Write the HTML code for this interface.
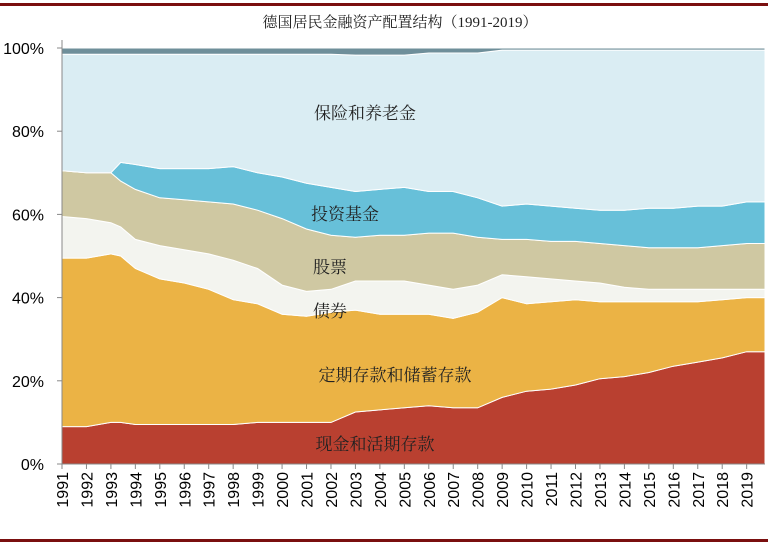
<!DOCTYPE html>
<html><head><meta charset="utf-8"><style>
body{margin:0;background:#fff;}
svg{display:block;}
text{font-family:"Liberation Sans","Noto Sans CJK SC",sans-serif;}
.cn{font-family:"Liberation Serif","Noto Serif CJK SC",serif;font-size:17px;fill:#222;}
</style></head><body>
<svg id="chart" width="768" height="547">
<rect x="0" y="3" width="768" height="3" fill="#7a0f0f"/>
<rect x="0" y="539" width="768" height="3" fill="#7a0f0f"/>
<text x="400" y="27" text-anchor="middle" class="cn" style="font-size:15px">德国居民金融资产配置结构（1991-2019）</text>
<g id="areas"></g><g id="axes"></g>
<text class="cn" x="365" y="119" text-anchor="middle">保险和养老金</text>
<text class="cn" x="345" y="220" text-anchor="middle">投资基金</text>
<text class="cn" x="330" y="273" text-anchor="middle">股票</text>
<text class="cn" x="330" y="317" text-anchor="middle">债券</text>
<text class="cn" x="395" y="381" text-anchor="middle">定期存款和储蓄存款</text>
<text class="cn" x="375" y="450" text-anchor="middle">现金和活期存款</text>
</svg>
<script>
const years=[1991,1992,1993,1993.4,1994,1995,1996,1997,1998,1999,2000,2001,2002,2003,2004,2005,2006,2007,2008,2009,2010,2011,2012,2013,2014,2015,2016,2017,2018,2019,2019.75];
const cash=[9,9,10,10,9.5,9.5,9.5,9.5,9.5,10,10,10,10,12.5,13,13.5,14,13.5,13.5,16,17.5,18,19,20.5,21,22,23.5,24.5,25.5,27,27];
const deposits=[40.5,40.5,40.5,40,37.5,35,34,32.5,30,28.5,26,25.5,26.5,24.5,23,22.5,22,21.5,23,24,21,21,20.5,18.5,18,17,15.5,14.5,14,13,13];
const bonds=[10,9.5,7.5,7,7,8,8,8.5,9.5,8.5,7,6,5.5,7,8,8,7,7,6.5,5.5,6.5,5.5,4.5,4.5,3.5,3,3,3,2.5,2,2];
const stocks=[11,11,12,11,12,11.5,12,12.5,13.5,14,16,15,13,10.5,11,11,12.5,13.5,11.5,8.5,9,9,9.5,9.5,10,10,10,10,10.5,11,11];
const funds=[0,0,0,4.5,6,7,7.5,8,9,9,10,11,11.5,11,11,11.5,10,10,9.5,8,8.5,8.5,8,8,8.5,9.5,9.5,10,9.5,10,10];
const insurance=[28,28.5,28.5,26,26.5,27.5,27.5,27.5,27,28.5,29.5,31,32,32.8,32.3,31.8,33.3,33.3,34.8,37.5,37,37.5,38,38.5,38.5,38,38,37.5,37.5,36.5,36.5];
const other=[1.5,1.5,1.5,1.5,1.5,1.5,1.5,1.5,1.5,1.5,1.5,1.5,1.5,1.7,1.7,1.7,1.2,1.2,1.2,0.5,0.5,0.5,0.5,0.5,0.5,0.5,0.5,0.5,0.5,0.5,0.5];
const yTicks=[0,20,40,60,80,100];
const xTickYears=[1991,1992,1993,1994,1995,1996,1997,1998,1999,2000,2001,2002,2003,2004,2005,2006,2007,2008,2009,2010,2011,2012,2013,2014,2015,2016,2017,2018,2019];
const series=[cash,deposits,bonds,stocks,funds,insurance,other];
const names=['area-cash','area-deposits','area-bonds','area-stocks','area-funds','area-insurance','area-other'];
const colors=['#b94030','#ebb345','#f3f4ef','#cfc8a2','#67c0d9','#daedf3','#6f8f9a'];
const X0=62,X1=765,Y0=464,Y1=48;
const xs=y=>X0+(y-1991)/(2019.75-1991)*(X1-X0);
const ys=v=>Y0-v/100*(Y0-Y1);
const NS='http://www.w3.org/2000/svg';
const areas=document.getElementById('areas'),axes=document.getElementById('axes');
let base=years.map(()=>0);
series.forEach((s,k)=>{
  const top=base.map((b,i)=>b+s[i]);
  let d='M'+years.map((y,i)=>xs(y).toFixed(1)+','+ys(top[i]).toFixed(1)).join('L');
  for(let i=years.length-1;i>=0;i--)d+='L'+xs(years[i]).toFixed(1)+','+ys(base[i]).toFixed(1);
  d+='Z';
  const p=document.createElementNS(NS,'path');
  p.setAttribute('d',d);p.setAttribute('fill',colors[k]);
  p.setAttribute('stroke','#fff');p.setAttribute('stroke-width','1');
  
  
  areas.appendChild(p);
  base=top;
});
function line(x1,y1,x2,y2,n){const l=document.createElementNS(NS,'line');
 l.setAttribute('x1',x1);l.setAttribute('y1',y1);l.setAttribute('x2',x2);l.setAttribute('y2',y2);
 l.setAttribute('stroke','#888');l.setAttribute('stroke-width','1');
 
 
 axes.appendChild(l);}
line(X0,40,X0,Y0,'y-axis');line(X0,Y0,X1,Y0,'x-axis');
yTicks.forEach(v=>{line(X0-5,ys(v),X0,ys(v),'y-tick');
 const t=document.createElementNS(NS,'text');t.setAttribute('x',44);t.setAttribute('y',ys(v)+6);
 t.setAttribute('text-anchor','end');t.setAttribute('font-size','16');t.textContent=v+'%';
 
 
 axes.appendChild(t);});
xTickYears.forEach(y=>{const x=xs(y);line(x,Y0,x,Y0+5,'x-tick');
 const t=document.createElementNS(NS,'text');t.setAttribute('transform','translate('+(x+6)+','+(Y0+8)+') rotate(-90)');
 t.setAttribute('text-anchor','end');t.setAttribute('font-size','16');t.textContent=y;
 
 
 axes.appendChild(t);});
</script>
</body></html>
